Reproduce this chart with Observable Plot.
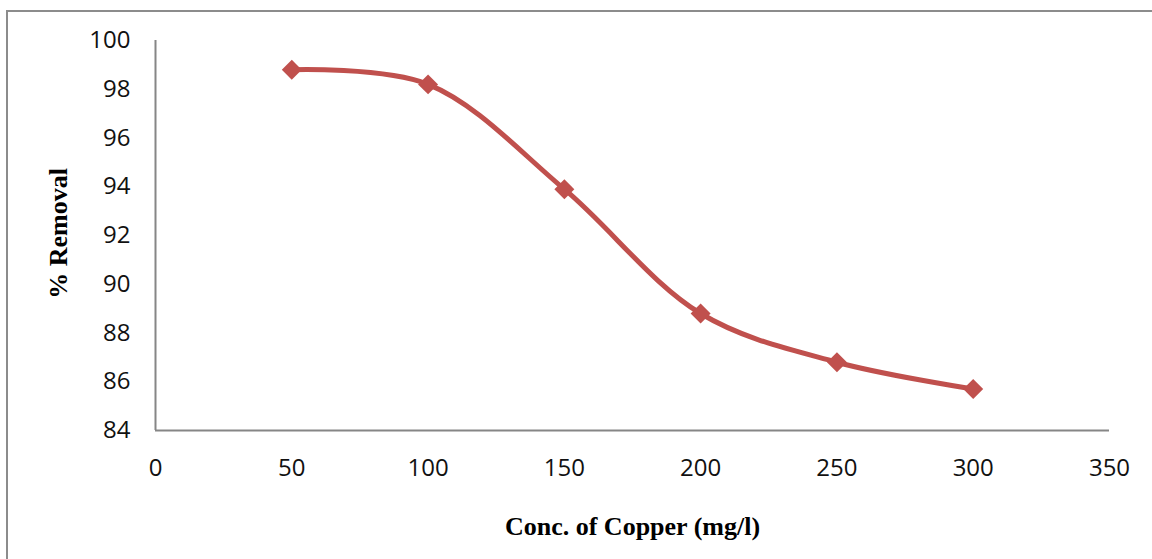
<!DOCTYPE html>
<html>
<head>
<meta charset="utf-8">
<script src="https://cdn.jsdelivr.net/npm/d3@7"></script>
<script src="https://cdn.jsdelivr.net/npm/@observablehq/plot@0.6"></script>
<style>
  html, body { margin: 0; padding: 0; background: #fff; overflow: hidden; }
  #wrap { position: relative; width: 1152px; height: 559px; }
  #frame { position: absolute; left: 6px; top: 10px; width: 1200px; height: 600px;
           border-top: 2px solid #8c8c8c; border-left: 2px solid #8c8c8c; }
  #chart { position: absolute; left: 0; top: 0; }
</style>
</head>
<body>
<div id="wrap"><div id="frame"></div><div id="chart"></div></div>
<script>
const concentration = [50, 100, 150, 200, 250, 300];
const removal = [98.8, 98.2, 93.9, 88.8, 86.8, 85.7];
const xTicks = [0, 50, 100, 150, 200, 250, 300, 350];
const yTicks = [84, 86, 88, 90, 92, 94, 96, 98, 100];
const xTitle = "Conc. of Copper (mg/l)";
const yTitle = "% Removal";

const data = concentration.map((c, i) => ({c, r: removal[i]}));
const color = "#C0504D";
const axisColor = "#868686";
const tickFont = "'Open Sans', sans-serif";
const titleFont = "'Liberation Serif', 'Times New Roman', serif";

const chart = Plot.plot({
  width: 1152,
  height: 559,
  marginLeft: 155,
  marginRight: 43,
  marginTop: 40,
  marginBottom: 129,
  style: {background: "transparent", overflow: "visible"},
  x: {domain: [0, 350]},
  y: {domain: [84, 100]},
  marks: [
    Plot.ruleX([0], {stroke: axisColor, strokeWidth: 2}),
    Plot.ruleY([84], {stroke: axisColor, strokeWidth: 2}),
    Plot.axisX({ticks: xTicks, tickSize: 0, tickPadding: 28, fontSize: 24, fontFamily: tickFont, fill: "#111", label: null}),
    Plot.axisY({ticks: yTicks, tickSize: 0, tickPadding: 25, fontSize: 24, fontFamily: tickFont, fill: "#111", label: null}),
    Plot.line(data, {x: "c", y: "r", curve: "catmull-rom", stroke: color, strokeWidth: 5}),
    Plot.dot(data, {x: "c", y: "r", symbol: "diamond2", r: 9, fill: color, stroke: "none"}),
    Plot.text([xTitle], {frameAnchor: "bottom", lineAnchor: "bottom", dy: 104, fontSize: 26, fontWeight: "bold", fontFamily: titleFont, fill: "#000"}),
    Plot.text([yTitle], {frameAnchor: "left", textAnchor: "middle", lineAnchor: "middle", rotate: -90, dx: -97, dy: -2, fontSize: 26, fontWeight: "bold", fontFamily: titleFont, fill: "#000"})
  ]
});
document.getElementById("chart").append(chart);
</script>
</body>
</html>
